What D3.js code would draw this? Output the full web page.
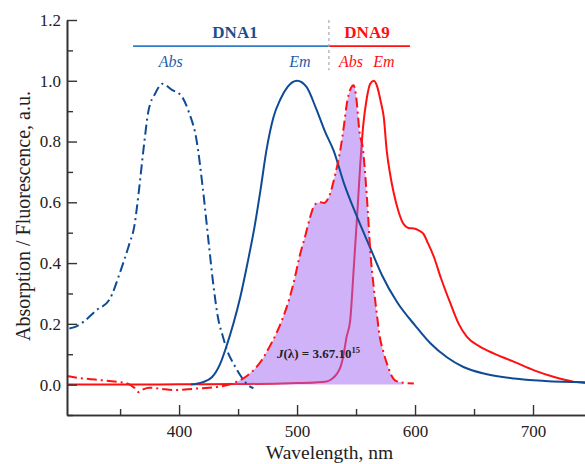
<!DOCTYPE html>
<html>
<head>
<meta charset="utf-8">
<script src="https://cdn.jsdelivr.net/npm/d3@7"></script>
<style>
  body { margin: 0; background: #fff; }
  svg { display: block; font-family: "Liberation Serif", "DejaVu Serif", serif; }
</style>
</head>
<body>
<svg id="chart"></svg>
<script>
// DNA1 absorption (dash-dot blue)
const dna1AbsWl = [307, 312, 320, 330, 341, 350, 358, 362, 366, 370, 374, 380, 386, 394, 402, 408, 415, 420, 425, 429, 433, 437, 440, 446, 452, 458, 463]
const dna1AbsVal = [0.185, 0.19, 0.21, 0.245, 0.28, 0.37, 0.465, 0.52, 0.64, 0.78, 0.9, 0.96, 0.99, 0.97, 0.95, 0.9, 0.8, 0.65, 0.47, 0.33, 0.22, 0.16, 0.12, 0.07, 0.03, 0.0, -0.012]

// DNA1 emission (solid blue)
const dna1EmWl = [410, 420, 428, 435, 440, 446, 452, 458, 464, 469, 474, 480, 486, 492, 500, 508, 516, 524, 531, 540, 550, 562, 572, 585, 600, 613, 627, 641, 660, 684, 710, 750]
const dna1EmVal = [0.0, 0.008, 0.025, 0.07, 0.124, 0.2, 0.29, 0.4, 0.52, 0.64, 0.77, 0.88, 0.94, 0.98, 1.0, 0.98, 0.91, 0.83, 0.77, 0.66, 0.56, 0.45, 0.36, 0.27, 0.195, 0.136, 0.09, 0.058, 0.035, 0.02, 0.012, 0.007]

// DNA9 absorption (dash-dot red)
const dna9AbsWl = [305, 315, 325, 333, 345, 355, 362, 366, 370, 375, 385, 395, 405, 418, 432, 440, 446, 452, 458, 463, 470, 476, 482, 488, 494, 498, 502, 507, 511, 514, 517, 520, 523, 526, 529, 531, 534, 537, 540, 542, 545, 548, 550, 553, 556, 558, 560, 562, 565, 568, 570, 573, 577, 580, 583, 590, 599]
const dna9AbsVal = [0.028, 0.022, 0.018, 0.015, 0.01, 0.005, -0.01, -0.025, -0.015, -0.01, -0.014, -0.018, -0.016, -0.012, -0.008, -0.002, 0.005, 0.015, 0.03, 0.047, 0.08, 0.12, 0.165, 0.22, 0.29, 0.35, 0.42, 0.49, 0.55, 0.585, 0.598, 0.6, 0.598, 0.61, 0.64, 0.67, 0.72, 0.78, 0.86, 0.92, 0.97, 0.985, 0.95, 0.83, 0.77, 0.68, 0.57, 0.443, 0.32, 0.22, 0.16, 0.11, 0.06, 0.03, 0.014, 0.006, 0.004]

// DNA9 emission (solid red)
const dna9EmWl = [305, 350, 400, 450, 480, 500, 515, 525, 530, 534, 537, 539, 542, 545, 548, 551, 553.5, 556, 559, 562, 565, 568, 571, 573.5, 576, 579, 582, 586, 590, 595, 599, 603, 607, 611, 616, 622, 630, 637, 644, 655, 667, 684, 701, 718, 735, 750]
const dna9EmVal = [0.0, 0.0, 0.001, 0.002, 0.003, 0.005, 0.007, 0.01, 0.02, 0.037, 0.06, 0.09, 0.157, 0.21, 0.38, 0.56, 0.72, 0.85, 0.94, 0.99, 1.0, 0.98, 0.93, 0.88, 0.77, 0.69, 0.63, 0.57, 0.53, 0.515, 0.514, 0.508, 0.497, 0.465, 0.42, 0.35, 0.267, 0.2, 0.157, 0.125, 0.102, 0.075, 0.047, 0.025, 0.009, 0.004]

// overlap region (under DNA9 absorption)
const overlapRange = [445, 592]

const xTicks = [400, 500, 600, 700]
const xMinor = [350, 450, 550, 650, 750]
const yTicks = [0.0, 0.2, 0.4, 0.6, 0.8, 1.0, 1.2]
const yMinor = [-0.1, 0.1, 0.3, 0.5, 0.7, 0.9, 1.1]

const W = 585, H = 464
const blue = '#0f4b95', red = '#ff1010'

const svg = d3.select('#chart').attr('width', W).attr('height', H)

const x = d3.scaleLinear().domain([305, 750]).range([67, 592])
const y = d3.scaleLinear().domain([-0.1, 1.2]).range([415, 20])

const zip = (wl, val) => wl.map((w, i) => ({w: w, v: val[i]}))

const line = d3.line()
  .x(d => x(d.w))
  .y(d => y(d.v))
  .curve(d3.curveMonotoneX)

// red emission first so the fill tints it
svg.append('path')
  .datum(zip(dna9EmWl, dna9EmVal))
  .attr('fill', 'none')
  .attr('stroke', red)
  .attr('stroke-width', 2)
  .attr('d', line)

// spectral overlap fill
const overlap = zip(dna9AbsWl, dna9AbsVal)
  .filter(d => d.w >= overlapRange[0] && d.w <= overlapRange[1])
  .map(d => ({w: d.w, v: Math.max(d.v, 0)}))

svg.append('path')
  .datum(overlap)
  .attr('fill', '#a066f0')
  .attr('fill-opacity', 0.5)
  .attr('d', d3.area()
    .x(d => x(d.w))
    .y0(y(0))
    .y1(d => y(d.v))
    .curve(d3.curveMonotoneX))

svg.append('path')
  .datum(zip(dna1EmWl, dna1EmVal))
  .attr('fill', 'none')
  .attr('stroke', blue)
  .attr('stroke-width', 2)
  .attr('d', line)

svg.append('path')
  .datum(zip(dna1AbsWl, dna1AbsVal))
  .attr('fill', 'none')
  .attr('stroke', blue)
  .attr('stroke-width', 2)
  .attr('stroke-dasharray', '10,4,2,4')
  .attr('d', line)

svg.append('path')
  .datum(zip(dna9AbsWl, dna9AbsVal))
  .attr('fill', 'none')
  .attr('stroke', red)
  .attr('stroke-width', 2)
  .attr('stroke-dasharray', '10,4,2,4')
  .attr('d', line)

// axes, ticks pointing inward
const xAxis = svg.append('g')
  .attr('transform', `translate(0,${y(-0.1)})`)
  .call(d3.axisBottom(x).tickValues(xTicks).tickSizeInner(-10).tickSizeOuter(0).tickPadding(10))
xAxis.append('g')
  .call(d3.axisBottom(x).tickValues(xMinor).tickSizeInner(-6).tickSizeOuter(0).tickFormat(''))

const yAxis = svg.append('g')
  .attr('transform', `translate(${x(305)},0)`)
  .call(d3.axisLeft(y).tickValues(yTicks).tickSizeInner(-10).tickSizeOuter(0).tickPadding(6).tickFormat(d3.format('.1f')))
yAxis.append('g')
  .call(d3.axisLeft(y).tickValues(yMinor).tickSizeInner(-6).tickSizeOuter(0).tickFormat(''))

svg.selectAll('.domain').attr('stroke', '#333').attr('stroke-width', 1.6)
svg.selectAll('.tick line').attr('stroke', '#333').attr('stroke-width', 1.4)
svg.selectAll('.tick text')
  .attr('font-family', '"Liberation Serif", serif')
  .attr('font-size', 17)
  .attr('fill', '#222')

// axis titles
svg.append('text')
  .attr('x', x(527.5))
  .attr('y', 459)
  .attr('text-anchor', 'middle')
  .attr('font-size', 19.5)
  .attr('fill', '#222')
  .text('Wavelength, nm')

svg.append('text')
  .attr('transform', `translate(30,${y(0.555)}) rotate(-90)`)
  .attr('text-anchor', 'middle')
  .attr('font-size', 20)
  .attr('fill', '#222')
  .text('Absorption / Fluorescence, a.u.')

// legend bar at the top
svg.append('line')
  .attr('x1', x(361)).attr('x2', x(527))
  .attr('y1', y(1.114)).attr('y2', y(1.114))
  .attr('stroke', '#2e7cc6').attr('stroke-width', 1.6)
svg.append('line')
  .attr('x1', x(527)).attr('x2', x(595.7))
  .attr('y1', y(1.114)).attr('y2', y(1.114))
  .attr('stroke', red).attr('stroke-width', 1.6)
svg.append('line')
  .attr('x1', x(527)).attr('x2', x(527))
  .attr('y1', y(1.2)).attr('y2', y(1.035))
  .attr('stroke', '#aaa').attr('stroke-width', 1.2)
  .attr('stroke-dasharray', '3,3')

const headers = [
  {t: 'DNA1', w: 447.4, c: '#1a4f91'},
  {t: 'DNA9', w: 559.3, c: red},
]
headers.forEach(h => {
  svg.append('text')
    .attr('x', x(h.w)).attr('y', y(1.141))
    .attr('text-anchor', 'middle')
    .attr('font-size', 17)
    .attr('font-weight', 'bold')
    .attr('fill', h.c)
    .text(h.t)
})

const subs = [
  {t: 'Abs', w: 393, c: '#1f5fa8'},
  {t: 'Em', w: 502.5, c: '#1f5fa8'},
  {t: 'Abs', w: 545.7, c: red},
  {t: 'Em', w: 573.7, c: red},
]
subs.forEach(s => {
  svg.append('text')
    .attr('x', x(s.w)).attr('y', y(1.045))
    .attr('text-anchor', 'middle')
    .attr('font-size', 16)
    .attr('font-style', 'italic')
    .attr('fill', s.c)
    .text(s.t)
})

// overlap integral label
const jLabel = svg.append('text')
  .attr('x', x(483)).attr('y', y(0.088))
  .attr('font-size', 13)
  .attr('font-weight', 'bold')
  .attr('fill', '#222')
jLabel.append('tspan').attr('font-style', 'italic').text('J')
jLabel.append('tspan').text('(λ) = 3.67.10')
jLabel.append('tspan').attr('font-size', 8.5).attr('dy', -5).text('15')
</script>
</body>
</html>
